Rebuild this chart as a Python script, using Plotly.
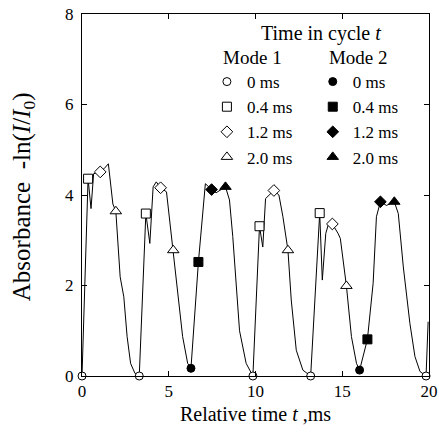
import plotly.graph_objects as go

# Absorbance curve (relative time in ms, absorbance)
curve_t = [0.0, 0.35, 0.52, 0.67, 1.05, 1.27, 1.52, 1.66, 1.78, 1.95, 2.2, 2.41, 2.6, 2.8, 3.05,
           3.3, 3.68, 3.91, 4.1, 4.28, 4.53, 4.87, 5.26, 5.51, 5.8, 6.09,
           6.28, 6.71, 7.11, 7.47, 7.73, 8.27, 8.5, 8.69, 8.88, 9.08, 9.46, 9.75,
           9.85, 10.23, 10.42, 10.58, 10.8, 11.06, 11.35, 11.58, 11.87, 12.06, 12.35, 12.73,
           13.18, 13.7, 13.85, 14.05, 14.2, 14.43, 14.76, 14.89, 15.24, 15.53, 15.82,
           16.0, 16.45, 16.78, 16.97, 17.2, 17.55, 18.0, 18.23, 18.52, 18.9, 19.19, 19.48,
           19.83, 19.95]
curve_y = [0.0, 4.36, 3.70, 4.47, 4.51, 4.58, 4.69, 4.18, 3.8, 3.64, 2.19, 1.75, 0.87, 0.28, 0.06,
           0.0, 3.59, 2.93, 4.18, 4.29, 4.16, 4.07, 2.78, 1.83, 0.87, 0.28,
           0.17, 2.52, 4.25, 4.12, 4.05, 4.18, 3.89, 3.08, 2.05, 1.0, 0.28, 0.06,
           0.0, 3.31, 2.85, 3.92, 4.0, 4.1, 4.0, 3.52, 2.78, 1.68, 0.57, 0.13,
           0.0, 3.6, 2.12, 3.15, 3.35, 3.36, 3.15, 3.04, 1.99, 0.87, 0.28,
           0.13, 0.81, 2.05, 3.52, 3.85, 3.77, 3.85, 3.59, 2.41, 1.16, 0.43, 0.1,
           0.0, 1.2]

# Mode 1 markers
m1_0ms_t = [0.0, 3.3, 9.85, 13.18, 19.83]
m1_0ms_y = [0.0, 0.0, 0.0, 0.0, 0.0]
m1_04ms_t = [0.35, 3.68, 10.23, 13.7]
m1_04ms_y = [4.36, 3.59, 3.31, 3.6]
m1_12ms_t = [1.05, 4.53, 11.06, 14.43]
m1_12ms_y = [4.51, 4.16, 4.1, 3.36]
m1_20ms_t = [1.95, 5.26, 11.87, 15.24]
m1_20ms_y = [3.64, 2.78, 2.78, 1.99]

# Mode 2 markers
m2_0ms_t = [6.28, 16.0]
m2_0ms_y = [0.17, 0.13]
m2_04ms_t = [6.71, 16.45]
m2_04ms_y = [2.52, 0.81]
m2_12ms_t = [7.47, 17.2]
m2_12ms_y = [4.12, 3.85]
m2_20ms_t = [8.27, 18.0]
m2_20ms_y = [4.18, 3.85]

x_ticks = [0, 5, 10, 15, 20]
y_ticks = [0, 2, 4, 6, 8]

FONT = "Liberation Serif"

fig = go.Figure()
fig.add_trace(go.Scatter(x=curve_t, y=curve_y, mode="lines",
                         line=dict(color="black", width=1), showlegend=False,
                         cliponaxis=False))

def add_markers(t, y, name, symbol, filled, size, legend):
    fig.add_trace(go.Scatter(
        x=t, y=y, mode="markers", name=name, legend=legend, cliponaxis=False,
        marker=dict(symbol=symbol, size=size,
                    color="black" if filled else "white",
                    line=dict(color="black", width=1))))

add_markers(m1_0ms_t, m1_0ms_y, "0 ms", "circle", False, 8, "legend")
add_markers(m1_04ms_t, m1_04ms_y, "0.4 ms", "square", False, 9, "legend")
add_markers(m1_12ms_t, m1_12ms_y, "1.2 ms", "diamond", False, 9, "legend")
add_markers(m1_20ms_t, m1_20ms_y, "2.0 ms", "triangle-up", False, 10, "legend")
add_markers(m2_0ms_t, m2_0ms_y, "0 ms", "circle", True, 8, "legend2")
add_markers(m2_04ms_t, m2_04ms_y, "0.4 ms", "square", True, 9, "legend2")
add_markers(m2_12ms_t, m2_12ms_y, "1.2 ms", "diamond", True, 9, "legend2")
add_markers(m2_20ms_t, m2_20ms_y, "2.0 ms", "triangle-up", True, 10, "legend2")

axis_common = dict(showline=True, linecolor="black", linewidth=1, mirror="ticks",
                   ticks="inside", ticklen=5, tickcolor="black", showgrid=False,
                   zeroline=False, automargin=False,
                   tickfont=dict(family=FONT, size=17, color="black"))

fig.update_layout(
    width=439, height=442,
    margin=dict(l=82, r=10, t=14, b=66, autoexpand=False),
    paper_bgcolor="white", plot_bgcolor="white",
    font=dict(family=FONT, color="black"),
    xaxis=dict(range=[0, 20], tickvals=x_ticks, **axis_common,
               title=dict(text="Relative time <i>t</i> ,ms",
                          font=dict(family=FONT, size=20), standoff=6)),
    yaxis=dict(range=[0, 8], tickvals=y_ticks, ticklabelstandoff=4, **axis_common),
    legend=dict(x=0.36, y=0.93, xanchor="left", yanchor="top",
                bgcolor="rgba(0,0,0,0)", font=dict(family=FONT, size=17),
                title=dict(text="Mode 1", side="top center",
                           font=dict(family=FONT, size=19)),
                itemwidth=30, tracegroupgap=0),
    legend2=dict(x=0.665, y=0.93, xanchor="left", yanchor="top",
                 bgcolor="rgba(0,0,0,0)", font=dict(family=FONT, size=17),
                 title=dict(text="Mode 2", side="top center",
                            font=dict(family=FONT, size=19)),
                 itemwidth=30, tracegroupgap=0),
    annotations=[
        dict(text="Time in cycle <i>t</i>", xref="paper", yref="paper",
             x=0.689, y=0.945, xanchor="center", yanchor="middle",
             showarrow=False, font=dict(family=FONT, size=20)),
        dict(text="Absorbance  -ln(<i>I</i>/<i>I</i><sub>0</sub>)", xref="paper", yref="paper",
             x=-0.17, y=0.494, xanchor="center", yanchor="middle", textangle=-90,
             showarrow=False, font=dict(family=FONT, size=25)),
    ],
)

fig.write_html("out.html", config={"displayModeBar": False},
               post_script="document.body.style.margin='0';document.body.style.overflow='hidden';")
